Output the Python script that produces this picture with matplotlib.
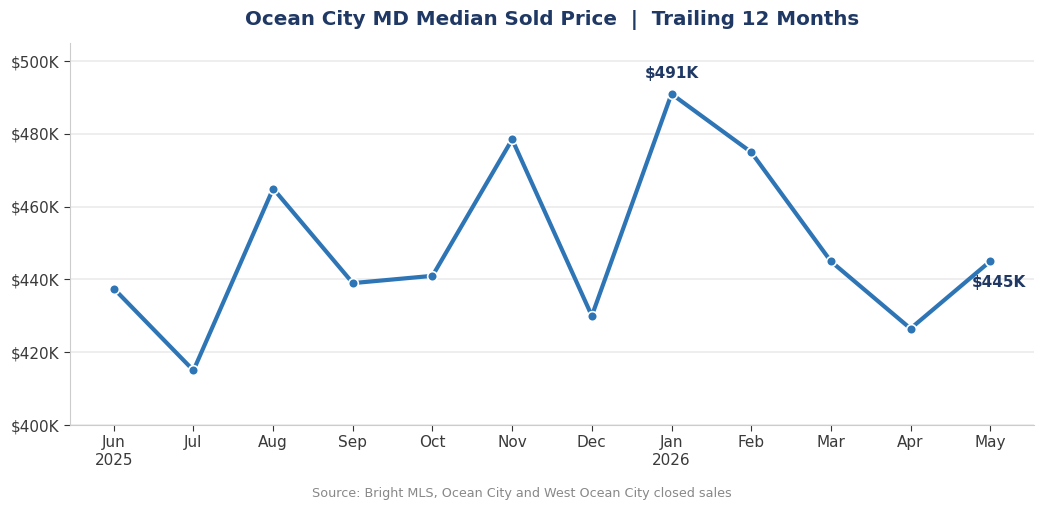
import matplotlib
matplotlib.use("Agg")
import matplotlib.pyplot as plt

months = ["Jun\n2025", "Jul", "Aug", "Sep", "Oct", "Nov", "Dec", "Jan\n2026", "Feb", "Mar", "Apr", "May"]
median_price_k = [437.5, 415, 465, 439, 441, 478.5, 430, 491, 475, 445, 426.5, 445]

line_color = "#2E75B6"
navy = "#1F3864"

fig = plt.figure(figsize=(10.44, 5.11), dpi=100)
ax = fig.add_axes([70 / 1044, 1 - 425 / 511, 964 / 1044, 382 / 511])

x = list(range(len(months)))
ax.plot(x, median_price_k, color=line_color, linewidth=3, marker="o", markersize=7,
        markeredgecolor="white", markeredgewidth=1.2, zorder=3)

ax.set_xlim(-0.55, 11.55)
ax.set_ylim(400, 505)
ax.set_xticks(x)
ax.set_xticklabels(months, fontsize=11, color="#3a3a3a")
yt = [400, 420, 440, 460, 480, 500]
ax.set_yticks(yt)
ax.set_yticklabels([f"${v}K" for v in yt], fontsize=11, color="#3a3a3a")
ax.tick_params(axis="both", length=4, color="#333333")

ax.grid(axis="y", color="#ebebeb", linewidth=1.2)
ax.set_axisbelow(True)
for s in ["top", "right"]:
    ax.spines[s].set_visible(False)
for s in ["left", "bottom"]:
    ax.spines[s].set_color("#cccccc")

# peak and last value labels
peak = median_price_k.index(max(median_price_k))
ax.annotate(f"${max(median_price_k):.0f}K", (peak, median_price_k[peak]), xytext=(0, 9),
            textcoords="offset points", ha="center", va="bottom", fontsize=11,
            fontweight="bold", color=navy)
ax.annotate(f"${median_price_k[-1]:.0f}K", (x[-1], median_price_k[-1]), xytext=(6, -10),
            textcoords="offset points", ha="center", va="top", fontsize=11,
            fontweight="bold", color=navy)

ax.set_title("Ocean City MD Median Sold Price  |  Trailing 12 Months", fontsize=14.3,
             fontweight="bold", color=navy, pad=13)
fig.text(0.5, 1 - 494 / 511, "Source: Bright MLS, Ocean City and West Ocean City closed sales",
         ha="center", va="center", fontsize=9.2, color="#888888")

fig.savefig("out.png", dpi=100)
